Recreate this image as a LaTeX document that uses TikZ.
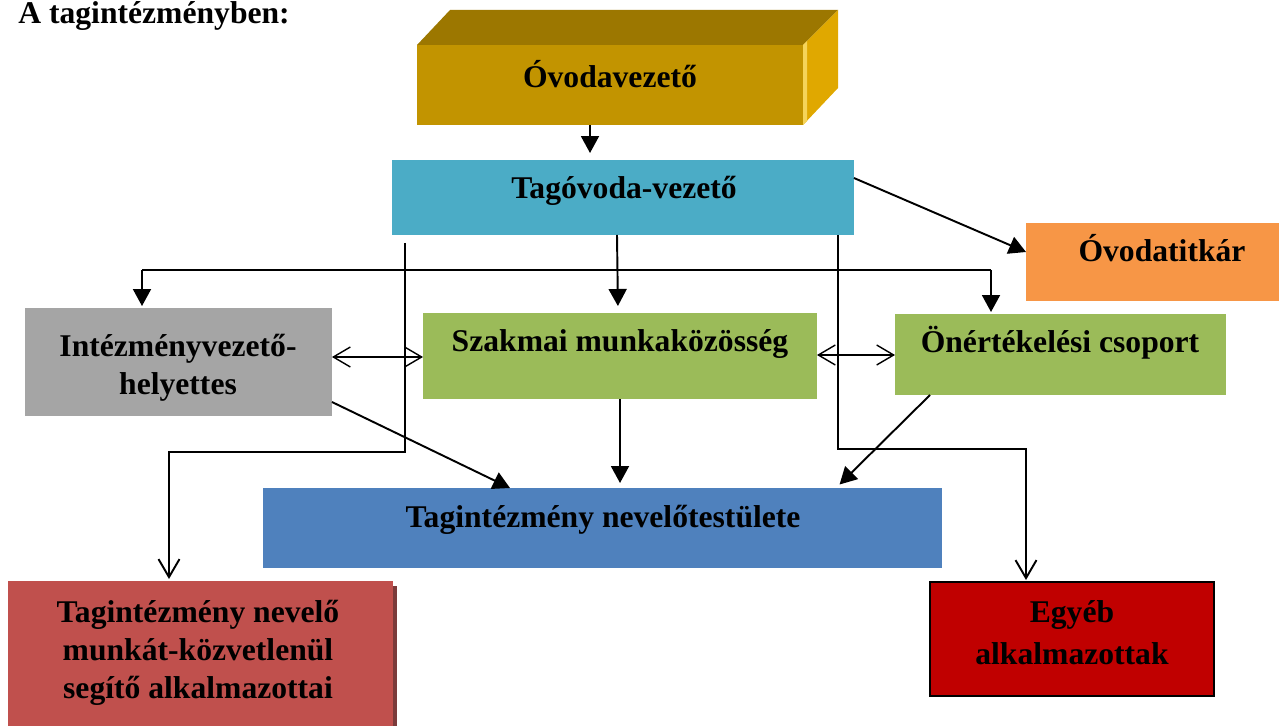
\documentclass[tikz,border=0pt]{standalone}
\usepackage{fontspec}
\setmainfont{Liberation Serif}
\usetikzlibrary{arrows.meta}
\definecolor{goldfront}{HTML}{C29400}
\definecolor{goldtop}{HTML}{9C7700}
\definecolor{goldside}{HTML}{E0A800}
\definecolor{goldlight}{HTML}{F5D45A}
\definecolor{tagblue}{HTML}{4BACC6}
\definecolor{titkarorange}{HTML}{F79646}
\definecolor{helyettesgray}{HTML}{A5A5A5}
\definecolor{munkagreen}{HTML}{9BBB59}
\definecolor{testuletblue}{HTML}{4F81BD}
\definecolor{segitored}{HTML}{C0504D}
\definecolor{segitoshadow}{HTML}{7B3B3B}
\definecolor{egyebred}{HTML}{C00000}
\begin{document}
\begin{tikzpicture}[x=0.02cm,y=-0.02cm,
  box/.style={inner sep=0pt, outer sep=0pt},
  txt/.style={font=\bfseries\fontsize{18}{21.5}\selectfont, inner sep=0pt, align=center},
  conn/.style={line width=1.1pt},
  arr/.style={line width=1.1pt, -{Triangle[length=0.34cm,width=0.36cm]}},
  openarr/.style={line width=1.1pt, -{Straight Barb[length=0.36cm,width=0.42cm]}},
  dblarr/.style={line width=0.8pt, {Straight Barb[length=0.34cm,width=0.4cm]}-{Straight Barb[length=0.34cm,width=0.4cm]}}]
  \useasboundingbox (0,0) rectangle (1279,726);

  \node[txt, anchor=base west] (cim) at (18,24) {A tagintézményben:};

  \fill[goldtop] (417,45) -- (450,10) -- (838,10) -- (803,45) -- cycle;
  \fill[goldside] (803,45) -- (838,10) -- (838,88) -- (803,125) -- cycle;
  \fill[goldlight] (803,45) -- (807,41) -- (807,121) -- (803,125) -- cycle;
  \node[box, fill=goldfront, minimum width=7.72cm, minimum height=1.6cm] (ovoda) at (610,85) {};
  \node[box, fill=tagblue, minimum width=9.24cm, minimum height=1.5cm] (tagovoda) at (623,197.5) {};
  \node[box, fill=titkarorange, minimum width=5.06cm, minimum height=1.56cm] (titkar) at (1152.5,262) {};
  \node[box, fill=helyettesgray, minimum width=6.14cm, minimum height=2.16cm] (helyettes) at (178.5,362) {};
  \node[box, fill=munkagreen, minimum width=7.88cm, minimum height=1.72cm] (szakmai) at (620,356) {};
  \node[box, fill=munkagreen, minimum width=6.62cm, minimum height=1.62cm] (onert) at (1060.5,354.5) {};
  \node[box, fill=testuletblue, minimum width=13.58cm, minimum height=1.6cm] (testulet) at (602.5,528) {};
  \fill[segitoshadow] (390,586) rectangle (397,726);
  \node[box, fill=segitored, minimum width=7.7cm, minimum height=2.9cm] (segito) at (200.5,653.5) {};
  \node[box, fill=egyebred, draw=black, line width=1.2pt, minimum width=5.68cm, minimum height=2.28cm] (egyeb) at (1072,639) {};

  \node[txt, anchor=base] (tovoda) at (610,88) {Óvodavezető};
  \node[txt, anchor=base] (ttagovoda) at (624,199) {Tagóvoda-vezető};
  \node[txt, anchor=base] (ttitkar) at (1162,262) {Óvodatitkár};
  \node[txt] (thelyettes) at (178,368) {Intézményvezető-\\helyettes};
  \node[txt, anchor=base] (tszakmai) at (620,352) {Szakmai munkaközösség};
  \node[txt, anchor=base] (tonert) at (1060,353) {Önértékelési csoport};
  \node[txt, anchor=base] (ttestulet) at (603,527) {Tagintézmény nevelőtestülete};
  \node[txt] (tsegito) at (198,653) {Tagintézmény nevelő\\munkát-közvetlenül\\segítő alkalmazottai};
  \node[txt, font=\bfseries\fontsize{18}{24}\selectfont] (tegyeb) at (1072,633) {Egyéb\\alkalmazottak};

  \coordinate (busL) at (142,270);
  \coordinate (busR) at (991,270);
  \coordinate (balag) at (405,243);
  \coordinate (jobbag) at (838,0 |- tagovoda.south);

  \draw[arr, shorten >=0.14cm] (590,0 |- ovoda.south) -- (590,0 |- tagovoda.north);
  \draw[arr] (tagovoda.east |- 0,178) -- (titkar.west |- 0,252);
  \draw[arr, shorten >=0.14cm] (617,0 |- tagovoda.south) -- (618,0 |- szakmai.north);
  \draw[conn] (busR) -- (busL);
  \draw[arr, shorten >=0.04cm] (busL) -- (busL |- helyettes.north);
  \draw[arr, shorten >=0.04cm] (busR) -- (busR |- onert.north);
  \draw[openarr, shorten >=0.04cm] (balag) -- (balag |- 0,452) -| (169,0 |- segito.north);
  \draw[openarr, shorten >=0.04cm] (jobbag) -- (jobbag |- 0,449) -| (1026,0 |- egyeb.north);
  \draw[dblarr] (helyettes.east |- 0,357) -- (szakmai.west |- 0,357);
  \draw[dblarr] (szakmai.east |- 0,355) -- (onert.west |- 0,355);
  \draw[arr] (helyettes.east |- 0,402) -- (510,0 |- testulet.north);
  \draw[arr, shorten >=0.1cm] (szakmai.south) -- (szakmai.south |- testulet.north);
  \draw[arr, shorten >=0.1cm] (930,0 |- onert.south) -- (836,0 |- testulet.north);
\end{tikzpicture}
\end{document}
